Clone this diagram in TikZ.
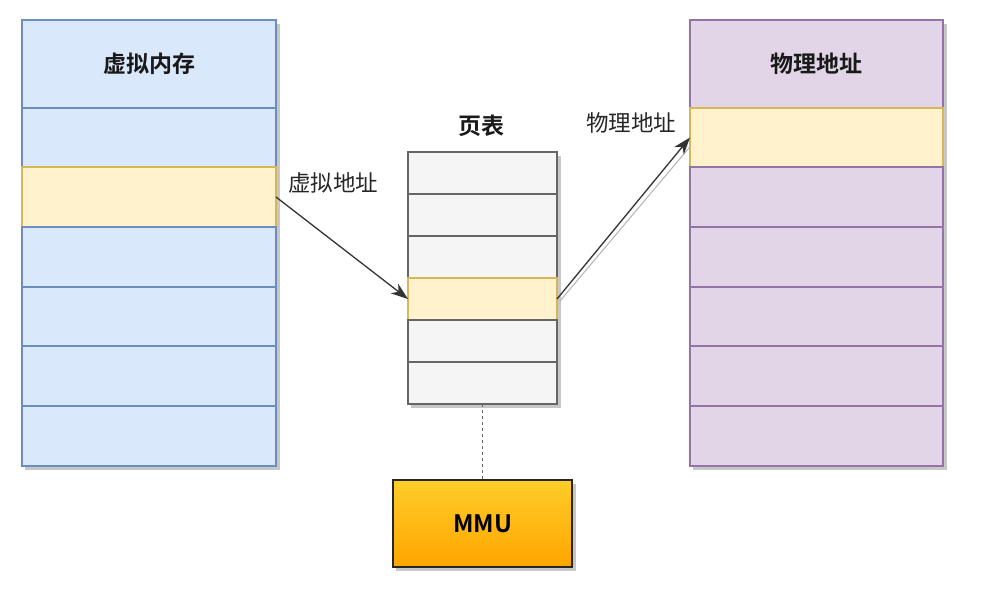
\documentclass[tikz,border=0pt]{standalone}
\usepackage{fontspec}
\newfontfamily\cjk[BoldFont={Noto Sans CJK SC Bold}]{Noto Sans CJK SC}
\usetikzlibrary{arrows.meta}
\definecolor{vfill}{HTML}{DAE8FC}\definecolor{vline}{HTML}{6C8EBF}
\definecolor{yfill}{HTML}{FFF2CC}\definecolor{yline}{HTML}{D6B656}
\definecolor{pfill}{HTML}{E1D5E7}\definecolor{pline}{HTML}{9673A6}
\definecolor{gfill}{HTML}{F5F5F5}\definecolor{gline}{HTML}{666666}
\definecolor{otop}{HTML}{FFCD28}\definecolor{obot}{HTML}{FFA500}
\definecolor{arrc}{HTML}{333333}
\begin{document}
\begin{tikzpicture}[x=1pt,y=-1pt,
  cell/.style={draw, line width=1.3pt, anchor=north west, inner sep=0pt, outer sep=0pt},
  vcell/.style={cell, draw=vline, fill=vfill, minimum width=254pt},
  pcell/.style={cell, draw=pline, fill=pfill, minimum width=253pt},
  gcell/.style={cell, draw=gline, fill=gfill, minimum width=149pt, minimum height=42pt},
  ycell/.style={draw=yline, fill=yfill},
  shadowbox/.style={fill=black!22, draw=none},
  head/.style={font=\cjk\bfseries\fontsize{23}{27}\selectfont, text=black!90},
  lbl/.style={font=\cjk\fontsize{22.5}{27}\selectfont, text=black!85},
  arr/.style={draw=arrc, line width=1.3pt, -{Stealth[length=17pt,width=12pt,inset=5pt]}}
]
\useasboundingbox (0,0) rectangle (981,596);
% shadows
\fill[shadowbox] (25,24) rectangle (280,470);
\fill[shadowbox] (411,156) rectangle (561,408);
\fill[shadowbox] (693,24) rectangle (947,470);
\fill[shadowbox] (396,484) rectangle (576,571);
% virtual memory column
\node[vcell, minimum height=88pt, head] (v1) at (22,20) {虚拟内存};
\node[vcell, minimum height=59pt] (v2) at (22,108) {};
\node[vcell, ycell, minimum height=60pt] (v3) at (22,167) {};
\node[vcell, minimum height=60pt] (v4) at (22,227) {};
\node[vcell, minimum height=59pt] (v5) at (22,287) {};
\node[vcell, minimum height=60pt] (v6) at (22,346) {};
\node[vcell, minimum height=60pt] (v7) at (22,406) {};
% page table
\node[head] (pttitle) at (481,126) {页表};
\node[gcell] (p1) at (408,152) {};
\node[gcell] (p2) at (408,194) {};
\node[gcell] (p3) at (408,236) {};
\node[gcell, ycell] (p4) at (408,278) {};
\node[gcell] (p5) at (408,320) {};
\node[gcell] (p6) at (408,362) {};
% physical memory column
\node[pcell, minimum height=88pt, head] (r1) at (690,20) {物理地址};
\node[pcell, ycell, minimum height=59pt] (r2) at (690,108) {};
\node[pcell, minimum height=60pt] (r3) at (690,167) {};
\node[pcell, minimum height=60pt] (r4) at (690,227) {};
\node[pcell, minimum height=59pt] (r5) at (690,287) {};
\node[pcell, minimum height=60pt] (r6) at (690,346) {};
\node[pcell, minimum height=60pt] (r7) at (690,406) {};
% MMU
\node[cell, draw=black!85, top color=otop, bottom color=obot, minimum width=179pt, minimum height=87pt,
  font=\cjk\bfseries\fontsize{24}{28}\selectfont] (mmu) at (393,480) {MMU};
% connectors
\draw[gline, line width=1pt, dashed] (p6.south) -- (mmu.north);
\draw[arr] (v3.east) -- (p4.west);
\draw[black!30, line width=1pt] ([xshift=3pt,yshift=-2pt]p4.east) -- ([xshift=1pt,yshift=-8pt]r2.west);
\draw[arr] (p4.east) -- (r2.west);
% labels
\node[lbl] (lv) at (333,183) {虚拟地址};
\node[lbl] (lp) at (631,123) {物理地址};
\end{tikzpicture}
\end{document}
